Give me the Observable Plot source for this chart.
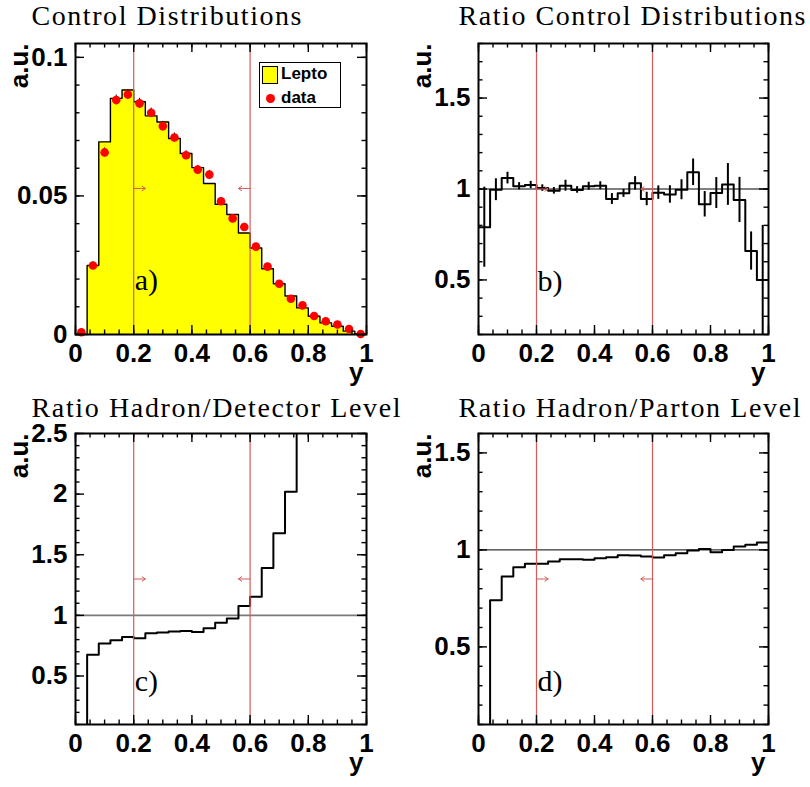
<!DOCTYPE html>
<html>
<head>
<meta charset="utf-8">
<script src="https://cdn.jsdelivr.net/npm/d3@7"></script>
<script src="https://cdn.jsdelivr.net/npm/@observablehq/plot@0.6"></script>
<style>
  html, body { margin: 0; padding: 0; background: white; }
  #root { position: relative; width: 810px; height: 787px; overflow: hidden; background: white; }
  .panel { position: absolute; }
  .legend { position: absolute; left: 259px; top: 62px; width: 80px; height: 44px; border: 1.5px solid black; background: white;
            font-family: "Liberation Sans", Arial, sans-serif; font-weight: bold; font-size: 17px; }
  .legend .sw { position: absolute; left: 2px; top: 3px; width: 14px; height: 16px; background: #ffff00; border: 1.2px solid black; }
  .legend .dot { position: absolute; left: 6px; top: 31px; width: 9px; height: 9px; border-radius: 50%; background: #ff0000; }
  .legend .t1 { position: absolute; left: 21px; top: 1px; }
  .legend .t2 { position: absolute; left: 21px; top: 25px; }
</style>
</head>
<body>
<div id="root"></div>
<script>
// ---------------- data ----------------
const binWidth = 0.04;
const binLow = [0, 0.04, 0.08, 0.12, 0.16, 0.2, 0.24, 0.28, 0.32, 0.36, 0.4, 0.44, 0.48, 0.52, 0.56, 0.6, 0.64, 0.68, 0.72, 0.76, 0.8, 0.84, 0.88, 0.92, 0.96];

// panel a: Lepto MC and data
const lepto = [0, 0.0249, 0.0695, 0.0852, 0.0882, 0.0840, 0.0789, 0.0767, 0.0707, 0.0653, 0.0602, 0.0545, 0.0470, 0.0433, 0.0366, 0.0312, 0.0237, 0.0183, 0.0139, 0.0096, 0.0066, 0.0042, 0.0030, 0.0012, 0.0002];
const dataVals = [0.0008, 0.0249, 0.0657, 0.0846, 0.0866, 0.0834, 0.0800, 0.0752, 0.0711, 0.0647, 0.0595, 0.0577, 0.0481, 0.0419, 0.0388, 0.0317, 0.0245, 0.0183, 0.0129, 0.0105, 0.0067, 0.0048, 0.0036, 0.0020, 0.0002];
const dataErr = [0.0006, 0.0012, 0.0016, 0.0018, 0.0018, 0.0018, 0.0017, 0.0017, 0.0016, 0.0016, 0.0015, 0.0015, 0.0014, 0.0013, 0.0013, 0.0012, 0.0011, 0.0010, 0.0009, 0.0008, 0.0007, 0.0006, 0.0005, 0.0004, 0.0003];

// panel b: ratio control distributions
const ratioCtrl = [0.79, 0.996, 1.06, 1.015, 1.022, 1.005, 0.99, 1.018, 0.995, 1.015, 1.018, 0.945, 0.976, 1.031, 0.945, 0.98, 0.97, 0.996, 1.092, 0.916, 0.978, 1.025, 0.94, 0.659, 0.5];
const ratioCtrlErr = [0.22, 0.06, 0.032, 0.02, 0.02, 0.018, 0.018, 0.03, 0.018, 0.022, 0.022, 0.03, 0.022, 0.037, 0.037, 0.037, 0.048, 0.055, 0.073, 0.07, 0.085, 0.115, 0.124, 0.105, 0.3];

// panel c: ratio hadron / detector level
const ratioHadDet = [0, 0.675, 0.768, 0.795, 0.822, 0.811, 0.852, 0.858, 0.866, 0.872, 0.863, 0.893, 0.94, 0.975, 1.077, 1.153, 1.39, 1.678, 2.02, 2.9];

// panel d: ratio hadron / parton level
const ratioHadPar = [0, 0.74, 0.863, 0.911, 0.928, 0.928, 0.94, 0.952, 0.952, 0.949, 0.957, 0.962, 0.973, 0.971, 0.966, 0.961, 0.973, 0.983, 0.997, 1.005, 0.988, 1.0, 1.017, 1.026, 1.038];

// cut lines, arrows
const cuts = [0.2, 0.6];
const arrowLen = 0.04;
const arrowY = [0.0527, 1.0, 1.30, 0.85];

// titles, labels
const titles = ["Control Distributions", "Ratio Control Distributions", "Ratio Hadron/Detector Level", "Ratio Hadron/Parton Level"];
const titleWidths = [270, 347, 369, 342];
const panelTags = ["a)", "b)", "c)", "d)"];
const tagY = [0.016, 0.44, 0.377, 0.274];
const yTitle = "a.u.";
const xTitle = "y";

// axes
const xMajor = [0, 0.2, 0.4, 0.6, 0.8, 1];
const xLabels = ["0", "0.2", "0.4", "0.6", "0.8", "1"];
const yDomains = [[0, 0.105], [0.2, 1.8], [0.1, 2.5], [0.1, 1.6]];
const yMajors = [[0, 0.05, 0.1], [0.5, 1, 1.5], [0.5, 1, 1.5, 2, 2.5], [0.5, 1, 1.5]];
const yLabels = [["0", "0.05", "0.1"], ["0.5", "1", "1.5"], ["0.5", "1", "1.5", "2", "2.5"], ["0.5", "1", "1.5"]];
const yMinorStep = [0.01, 0.1, 0.1, 0.1];
const xMinorStep = 0.05;

// ---------------- helpers ----------------
const RED = "#d35b5b";
function stepPoints(vals) {
  const pts = vals.map((v, i) => ({x: binLow[i], y: v}));
  pts.push({x: binLow[vals.length - 1] + binWidth, y: vals[vals.length - 1]});
  return pts;
}

const layout = [
  {left: 0, top: 0, h: 390, ml: 75, mr: 39, mb: 56},
  {left: 405, top: 0, h: 390, ml: 73, mr: 42, mb: 56},
  {left: 0, top: 390, h: 397, ml: 75, mr: 39, mb: 63},
  {left: 405, top: 390, h: 397, ml: 73, mr: 42, mb: 63}
];
const MT = 43;
const sansFont = "'Liberation Sans', Arial, Helvetica, sans-serif";
const serifFont = "'Liberation Serif', 'Times New Roman', serif";

function panelPlot(k, dataMarks, refLine) {
  const L = layout[k];
  const fw = 405 - L.ml - L.mr;
  const fh = L.h - MT - L.mb;
  const yd = yDomains[k];
  const xMinor = d3.range(0, 1.0001, xMinorStep);
  const yMinor = d3.range(yd[0], yd[1] + 1e-6, yMinorStep[k]);
  const majorLen = 9, minorLen = 4.5;
  const tick = {stroke: "black", strokeWidth: 1.4};
  const ymaj = yMajors[k], ylab = yLabels[k];
  const svg = Plot.plot({
    width: 405, height: L.h,
    marginLeft: L.ml, marginRight: L.mr, marginTop: MT, marginBottom: L.mb,
    x: {domain: [0, 1]},
    y: {domain: yd},
    style: {fontFamily: sansFont, fontWeight: "bold", fontSize: "26px", background: "transparent", overflow: "visible", color: "black"},
    marks: [
      ...dataMarks.before,
      refLine ? Plot.ruleY([1], {stroke: refLine.stroke, strokeWidth: refLine.width}) : null,
      ...dataMarks.main,
      Plot.ruleX(cuts, {stroke: RED, strokeWidth: 1.2}),
      Plot.arrow(cuts.map((c, i) => ({x1: c, x2: i === 0 ? c + arrowLen : c - arrowLen, y: arrowY[k]})),
        {x1: "x1", x2: "x2", y1: "y", y2: "y", stroke: RED, strokeWidth: 1, headLength: 7, headAngle: 70}),
      ...dataMarks.after,
      // ticks (inward, all four sides)
      Plot.ruleX(xMajor, {...tick, insetTop: fh - majorLen}),
      Plot.ruleX(xMajor, {...tick, insetBottom: fh - majorLen}),
      Plot.ruleX(xMinor, {...tick, insetTop: fh - minorLen}),
      Plot.ruleX(xMinor, {...tick, insetBottom: fh - minorLen}),
      Plot.ruleY(ymaj, {...tick, insetRight: fw - majorLen}),
      Plot.ruleY(ymaj, {...tick, insetLeft: fw - majorLen}),
      Plot.ruleY(yMinor, {...tick, insetRight: fw - minorLen}),
      Plot.ruleY(yMinor, {...tick, insetLeft: fw - minorLen}),
      Plot.frame({stroke: "black", strokeWidth: 2}),
      Plot.axisX({ticks: xMajor, tickSize: 0, tickPadding: 9, tickFormat: (d, i) => xLabels[i], label: null, fontSize: 26, fontWeight: "bold"}),
      Plot.axisY({ticks: ymaj, tickSize: 0, tickPadding: 8, tickFormat: (d, i) => ylab[i], label: null, fontSize: 26, fontWeight: "bold"}),
      // titles
      Plot.text([titles[k]], {frameAnchor: "top-left", textAnchor: "start", lineAnchor: "bottom",
        dx: (k % 2 === 0 ? 31 : 458 - 405) - L.ml, dy: (k < 2 ? 24 : 26.7) - MT,
        fontFamily: serifFont, fontWeight: "normal", fontSize: 28, fill: "black"}),
      Plot.text([yTitle], {frameAnchor: "top-left", textAnchor: "end", lineAnchor: "bottom", rotate: -90,
        dx: 27 - 75, dy: 0, fontSize: 26, fontWeight: "bold", fill: "black"}),
      Plot.text([xTitle], {frameAnchor: "bottom-right", textAnchor: "end", lineAnchor: "bottom",
        dx: -3, dy: 46.5, fontSize: 26, fontWeight: "bold", fill: "black"}),
      Plot.text([{x: 0.2, y: tagY[k], t: panelTags[k]}], {x: "x", y: "y", text: "t", textAnchor: "start", lineAnchor: "bottom",
        dx: 1, fontFamily: serifFont, fontWeight: "normal", fontSize: 30, fill: "black"})
    ].filter(Boolean)
  });
  // stretch the serif title to the width of the Computer Modern original
  d3.select(svg).selectAll("text").filter(function () { return this.textContent === titles[k]; })
    .attr("textLength", titleWidths[k]).attr("lengthAdjust", "spacing");
  return svg;
}

const root = document.getElementById("root");
function place(svg, k) {
  const d = document.createElement("div");
  d.className = "panel";
  d.style.left = layout[k].left + "px";
  d.style.top = layout[k].top + "px";
  d.appendChild(svg);
  root.appendChild(d);
}

// panel a
{
  const pts = stepPoints(lepto);
  const dpts = dataVals.map((v, i) => ({x: binLow[i] + binWidth / 2, y: v, e: dataErr[i]}));
  const svg = panelPlot(0, {
    before: [Plot.areaY(pts, {x: "x", y: "y", curve: "step-after", fill: "#ffff00"})],
    main: [Plot.lineY(pts, {x: "x", y: "y", curve: "step-after", stroke: "black", strokeWidth: 1.4})],
    after: [
      Plot.ruleX(dpts, {x: "x", y1: d => d.y - d.e, y2: d => d.y + d.e, stroke: "black", strokeWidth: 1}),
      Plot.dot(dpts, {x: "x", y: "y", r: 4.3, fill: "#ff0000", stroke: "none"})
    ]
  }, null);
  place(svg, 0);
  const lg = document.createElement("div");
  lg.className = "legend";
  lg.innerHTML = '<div class="sw"></div><div class="t1">Lepto</div><div class="dot"></div><div class="t2">data</div>';
  root.appendChild(lg);
}

// panel b
{
  const pts = stepPoints(ratioCtrl);
  const epts = ratioCtrl.map((v, i) => ({x: binLow[i] + binWidth / 2, y1: v - ratioCtrlErr[i], y2: v + ratioCtrlErr[i]}));
  const svg = panelPlot(1, {
    before: [],
    main: [
      Plot.lineY(pts, {x: "x", y: "y", curve: "step-after", stroke: "black", strokeWidth: 2, clip: true}),
      Plot.ruleX(epts, {x: "x", y1: "y1", y2: "y2", stroke: "black", strokeWidth: 2, clip: true})
    ],
    after: []
  }, {stroke: "black", width: 1});
  place(svg, 1);
}

// panel c
{
  const pts = stepPoints(ratioHadDet);
  const svg = panelPlot(2, {
    before: [],
    main: [Plot.lineY(pts, {x: "x", y: "y", curve: "step-after", stroke: "black", strokeWidth: 2, clip: true})],
    after: []
  }, {stroke: "#7a7a7a", width: 1.6});
  place(svg, 2);
}

// panel d
{
  const pts = stepPoints(ratioHadPar);
  const svg = panelPlot(3, {
    before: [],
    main: [Plot.lineY(pts, {x: "x", y: "y", curve: "step-after", stroke: "black", strokeWidth: 2, clip: true})],
    after: []
  }, {stroke: "black", width: 1});
  place(svg, 3);
}
</script>
</body>
</html>
